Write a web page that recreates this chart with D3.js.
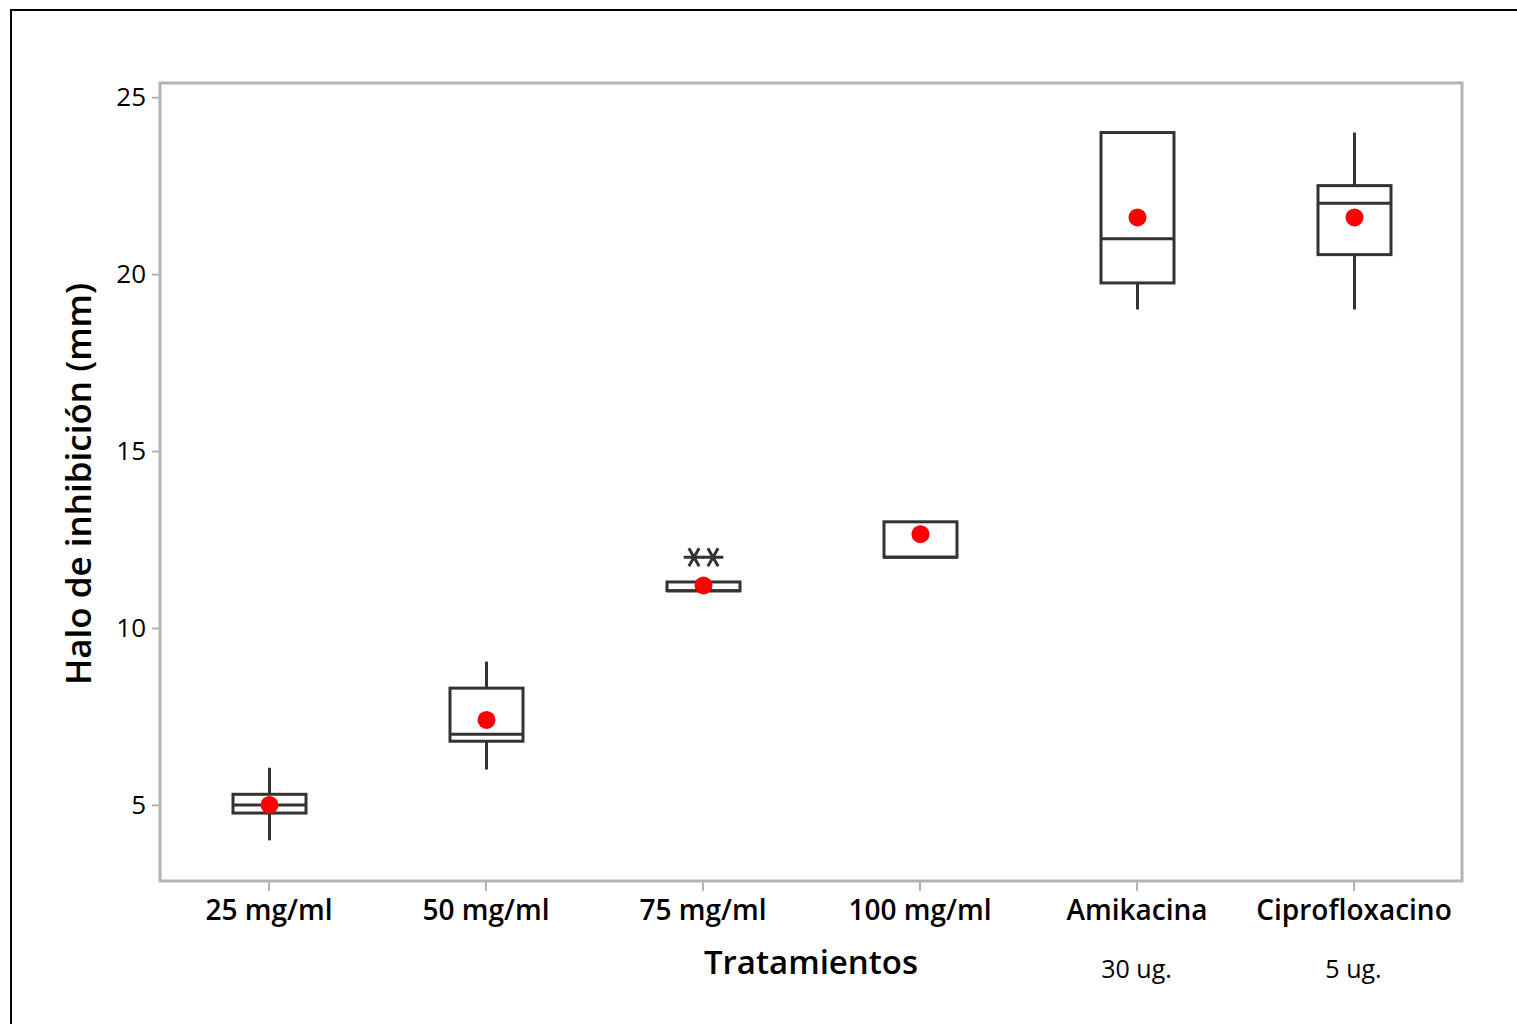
<!DOCTYPE html>
<html><head><meta charset="utf-8">
<script src="https://cdn.jsdelivr.net/npm/d3@7"></script>
<style>body{margin:0;background:#fff}svg{display:block}</style>
</head><body>
<script>
const categories = ["25 mg/ml","50 mg/ml","75 mg/ml","100 mg/ml","Amikacina","Ciprofloxacino"];
const subLabels = ["","","","","30 ug.","5 ug."];
const q1 = [4.77, 6.8, 11.05, 12, 19.75, 20.55];
const medians = [5, 7, 11.05, 12, 21, 22];
const q3 = [5.3, 8.3, 11.3, 13, 24, 22.5];
const whiskerLow = [4, 6, 11.05, 12, 19, 19];
const whiskerHigh = [6.05, 9.05, 11.3, 13, 24, 24];
const means = [5, 7.4, 11.2, 12.65, 21.6, 21.6];
const outliers = [[], [], [12, 12], [], [], []];
const yTicks = [5, 10, 15, 20, 25];

const W = 1517, H = 1024;
const svg = d3.select("body").append("svg").attr("width", W).attr("height", H);
svg.append("rect").attr("x", 11).attr("y", 10).attr("width", W + 10).attr("height", H + 10)
  .attr("fill", "#fff").attr("stroke", "#000").attr("stroke-width", 2);

const L = 160, R = 1462, T = 83, B = 881;
const x = d3.scalePoint().domain(categories).range([L, R]).padding(0.5);
const y = d3.scaleLinear().domain([2.85, 25.4]).range([B, T]);
const font = "'Open Sans', 'Noto Sans', sans-serif";
const frame = "#b3b3b3", ink = "#333";

// y axis
const ya = svg.append("g").attr("transform", `translate(${L},0)`)
  .call(d3.axisLeft(y).tickValues(yTicks).tickSize(8).tickPadding(6));
ya.select(".domain").remove();
ya.selectAll("line").attr("stroke", frame).attr("stroke-width", 2);
ya.selectAll("text").attr("font-family", font).attr("font-size", 26).attr("font-weight", 500).attr("fill", "#000");

// x axis
const xa = svg.append("g").attr("transform", `translate(0,${B})`)
  .call(d3.axisBottom(x).tickSize(10).tickPadding(9));
xa.select(".domain").remove();
xa.selectAll("line").attr("stroke", frame).attr("stroke-width", 2);
xa.selectAll("text").attr("font-family", font).attr("font-size", 28).attr("font-weight", 600).attr("fill", "#000");

svg.append("rect").attr("x", L).attr("y", T).attr("width", R - L).attr("height", B - T)
  .attr("fill", "none").attr("stroke", frame).attr("stroke-width", 3);

// sub labels
svg.append("g").selectAll("text").data(categories).join("text")
  .attr("x", d => x(d)).attr("y", 978).attr("text-anchor", "middle")
  .attr("font-family", font).attr("font-size", 25).attr("fill", "#000")
  .text((d, i) => subLabels[i]);

// titles
svg.append("text").attr("x", 811).attr("y", 974).attr("text-anchor", "middle")
  .attr("font-family", font).attr("font-size", 33).attr("font-weight", 600).text("Tratamientos");
svg.append("text").attr("transform", `translate(91,484) rotate(-90)`).attr("text-anchor", "middle")
  .attr("font-family", font).attr("font-size", 35).attr("font-weight", 600).text("Halo de inhibición (mm)");

const bw = 73;
const g = svg.append("g");
categories.forEach((c, i) => {
  const cx = x(c) + 1;
  if (whiskerHigh[i] > q3[i]) g.append("line").attr("x1", cx).attr("x2", cx).attr("y1", y(q3[i])).attr("y2", y(whiskerHigh[i])).attr("stroke", ink).attr("stroke-width", 3);
  if (whiskerLow[i] < q1[i]) g.append("line").attr("x1", cx).attr("x2", cx).attr("y1", y(q1[i])).attr("y2", y(whiskerLow[i])).attr("stroke", ink).attr("stroke-width", 3);
  g.append("rect").attr("x", cx - bw / 2).attr("y", y(q3[i])).attr("width", bw).attr("height", y(q1[i]) - y(q3[i]))
    .attr("fill", "#fff").attr("stroke", ink).attr("stroke-width", 3);
  g.append("line").attr("x1", cx - bw / 2).attr("x2", cx + bw / 2).attr("y1", y(medians[i])).attr("y2", y(medians[i])).attr("stroke", ink).attr("stroke-width", 3);
  outliers[i].forEach((v, k) => {
    const ox = cx + (k - (outliers[i].length - 1) / 2) * 19;
    g.append("path").attr("d", d3.symbol(d3.symbolAsterisk, 300)())
      .attr("transform", `translate(${ox},${y(v)}) rotate(90)`).attr("fill", "none").attr("stroke", ink).attr("stroke-width", 3);
  });
  g.append("circle").attr("cx", cx).attr("cy", y(means[i])).attr("r", 9).attr("fill", "#ff0000");
});
</script>
</body></html>
